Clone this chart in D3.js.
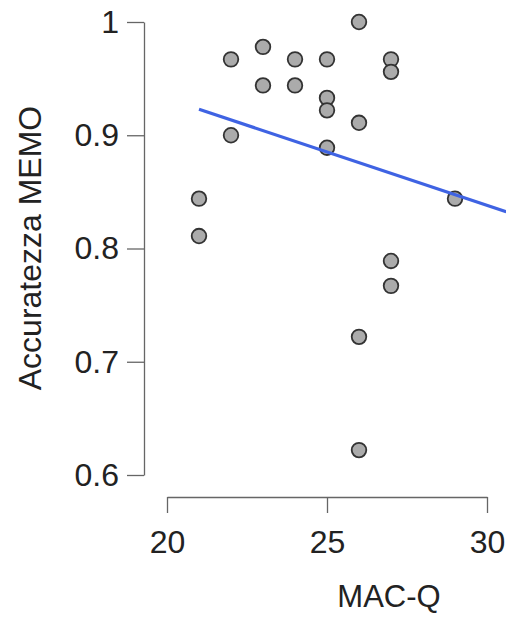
<!DOCTYPE html>
<html>
<head>
<meta charset="utf-8">
<script src="https://cdn.jsdelivr.net/npm/d3@7"></script>
<style>
  html, body { margin: 0; padding: 0; background: #fff; }
  svg { display: block; }
  text { font-family: "Liberation Sans", Arial, sans-serif; fill: #222; }
</style>
</head>
<body>
<svg id="chart" width="506" height="617"></svg>
<script>
// MAC-Q score per participant
const macq = [21, 21, 22, 22, 23, 23, 24, 24, 25, 25, 25, 25, 26, 26, 26, 26, 27, 27, 27, 27, 29];
// MEMO accuracy per participant
const accuracy = [0.844, 0.811, 0.967, 0.900, 0.978, 0.944, 0.967, 0.944, 0.967, 0.933, 0.922, 0.889,
                  1.000, 0.911, 0.722, 0.622, 0.967, 0.956, 0.789, 0.767, 0.844];
// Linear fit: value at start, slope per MAC-Q point, x extent
const fitStartX = 21;
const fitEndX = 30.6;
const fitIntercept = 0.923;
const fitSlope = -0.00944;

const xTicks = [20, 25, 30];
const yTicks = [0.6, 0.7, 0.8, 0.9, 1];

const svg = d3.select("#chart");

const x = d3.scaleLinear().domain([20, 30]).range([167, 487]);
const y = d3.scaleLinear().domain([0.6, 1]).range([475, 22]);

// y axis
const yAxis = svg.append("g")
  .attr("transform", "translate(144,0)")
  .call(d3.axisLeft(y).tickValues(yTicks).tickFormat(d => d === 1 ? "1" : d3.format(".1f")(d))
    .tickSize(17).tickSizeOuter(0).tickPadding(8));

// x axis
const xAxis = svg.append("g")
  .attr("transform", "translate(0,497)")
  .call(d3.axisBottom(x).tickValues(xTicks).tickFormat(d3.format("d"))
    .tickSize(16).tickSizeOuter(0).tickPadding(17));

[yAxis, xAxis].forEach(g => {
  g.select(".domain").attr("stroke", "#666").attr("stroke-width", 1.3);
  g.selectAll(".tick line").attr("stroke", "#666").attr("stroke-width", 1.3);
  g.selectAll(".tick text")
    .attr("font-family", "Liberation Sans, Arial, sans-serif")
    .attr("font-size", 32).attr("fill", "#222");
});

// points
const pts = macq.map((m, i) => ({ m, a: accuracy[i] }));
svg.append("g").selectAll("circle")
  .data(pts)
  .join("circle")
  .attr("cx", d => x(d.m))
  .attr("cy", d => y(d.a))
  .attr("r", 7.3)
  .attr("fill", "#ababab")
  .attr("stroke", "#333")
  .attr("stroke-width", 1.8);

// fitted line
const fitData = [fitStartX, fitEndX].map(v => ({ m: v, a: fitIntercept + fitSlope * (v - fitStartX) }));
svg.append("path")
  .datum(fitData)
  .attr("fill", "none")
  .attr("stroke", "#3f63e3")
  .attr("stroke-width", 3.2)
  .attr("d", d3.line().x(d => x(d.m)).y(d => y(d.a)));

// axis titles
svg.append("text")
  .attr("x", 389).attr("y", 607)
  .attr("text-anchor", "middle")
  .attr("font-size", 31)
  .text("MAC-Q");

svg.append("text")
  .attr("transform", "translate(41,248) rotate(-90)")
  .attr("text-anchor", "middle")
  .attr("font-size", 32)
  .text("Accuratezza MEMO");
</script>
</body>
</html>
